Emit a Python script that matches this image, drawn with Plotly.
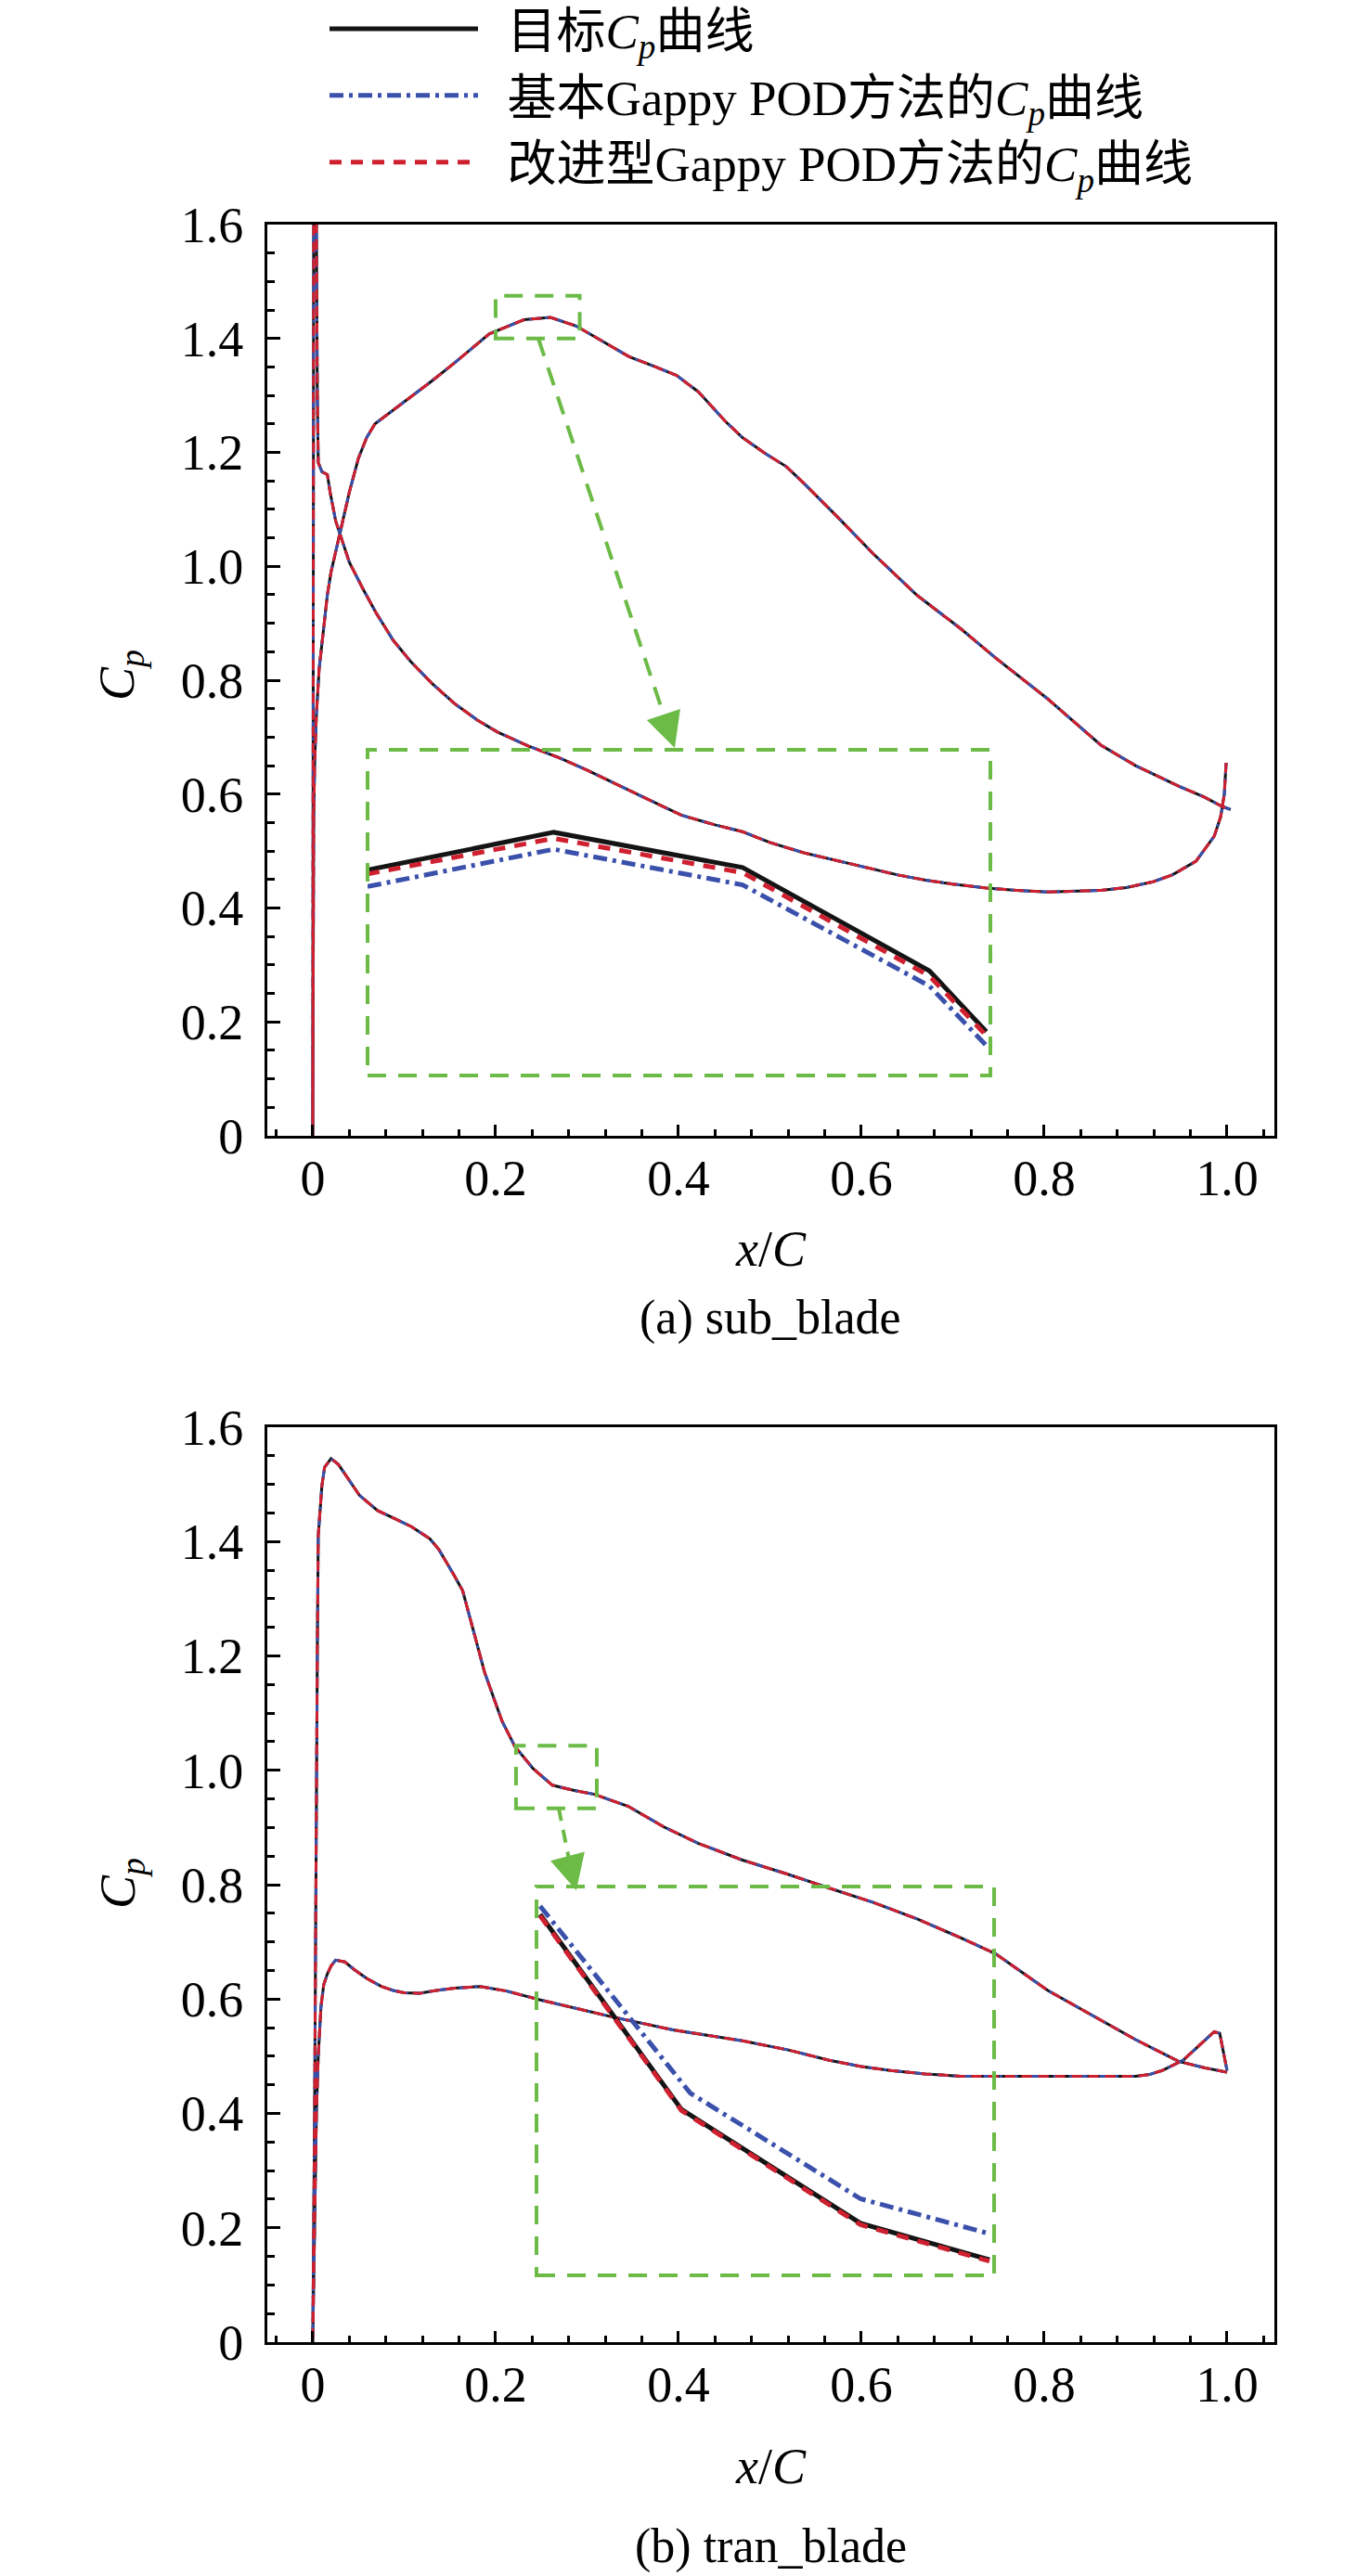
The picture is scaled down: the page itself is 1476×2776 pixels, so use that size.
import plotly.graph_objects as go

# ---------------- data: (a) sub_blade ----------------
# path: pressure side TE->LE, down the leading edge, suction side LE->TE
sub_x = [0.999, 0.997, 0.993, 0.986, 0.966, 0.940, 0.919, 0.890, 0.862, 0.830, 0.804, 0.770,
         0.737, 0.700, 0.670, 0.640, 0.613, 0.575, 0.537, 0.500, 0.470, 0.440, 0.403, 0.365,
         0.327, 0.300, 0.269, 0.235, 0.202, 0.180, 0.155, 0.130, 0.107, 0.088, 0.069, 0.055,
         0.040, 0.032, 0.025, 0.019, 0.016, 0.010, 0.006, 0.005, 0.004, 0.003,
         0.001, 0.0005, 0.0,
         0.0005, 0.001, 0.002, 0.004, 0.007, 0.011, 0.016, 0.020, 0.030, 0.040, 0.050, 0.059,
         0.068, 0.078, 0.090, 0.107, 0.130, 0.155, 0.193, 0.231, 0.260, 0.288, 0.327, 0.346,
         0.375, 0.398, 0.422, 0.451, 0.470, 0.495, 0.518, 0.537, 0.575, 0.613, 0.661, 0.709,
         0.747, 0.804, 0.862, 0.900, 0.947, 0.975, 0.995, 1.004]
sub_cp = [0.655, 0.600, 0.560, 0.526, 0.482, 0.458, 0.446, 0.436, 0.431, 0.429, 0.428, 0.431,
          0.435, 0.442, 0.449, 0.458, 0.468, 0.482, 0.497, 0.515, 0.534, 0.546, 0.563, 0.592,
          0.621, 0.642, 0.664, 0.685, 0.709, 0.730, 0.759, 0.795, 0.833, 0.870, 0.919, 0.960,
          1.007, 1.045, 1.080, 1.130, 1.161, 1.166, 1.182, 1.300, 1.600, 1.900,
          1.600, 0.900, 0.0,
          0.300, 0.550, 0.650, 0.740, 0.820, 0.880, 0.950, 0.990, 1.060, 1.130, 1.190, 1.226,
          1.250, 1.262, 1.277, 1.298, 1.325, 1.357, 1.408, 1.433, 1.437, 1.422, 1.386, 1.368,
          1.350, 1.335, 1.306, 1.255, 1.226, 1.198, 1.175, 1.146, 1.085, 1.022, 0.949, 0.890,
          0.839, 0.767, 0.686, 0.650, 0.614, 0.595, 0.578, 0.573]
sub_cp_basic = list(sub_cp)      # indistinguishable from target at full scale
sub_cp_improved = list(sub_cp)

# zoomed detail (a)
sub_zoom_x = [0.2000, 0.2275, 0.2554, 0.2830, 0.2914]
sub_zoom_target = [1.4473, 1.4560, 1.4479, 1.4241, 1.4101]
sub_zoom_basic = [1.4435, 1.4521, 1.4439, 1.4206, 1.4069]
sub_zoom_improved = [1.4464, 1.4546, 1.4467, 1.4229, 1.4092]
sub_zoom_xrange = [0.200, 0.292]
sub_zoom_yrange = [1.400, 1.475]

# ---------------- data: (b) tran_blade ----------------
# path: suction side TE->LE, leading edge, pressure side LE->TE
tran_x = [1.000, 0.975, 0.947, 0.900, 0.852, 0.804, 0.747, 0.709, 0.661, 0.613, 0.565, 0.518,
          0.470, 0.422, 0.384, 0.345, 0.308, 0.285, 0.262, 0.241, 0.221, 0.207, 0.188, 0.175,
          0.164, 0.155, 0.145, 0.138, 0.128, 0.108, 0.091, 0.071, 0.051, 0.037, 0.028, 0.020,
          0.013, 0.010, 0.008, 0.006, 0.005, 0.004, 0.002, 0.0,
          0.002, 0.004, 0.006, 0.009, 0.012, 0.016, 0.020, 0.025, 0.035, 0.045, 0.059, 0.075,
          0.088, 0.100, 0.117, 0.135, 0.155, 0.183, 0.212, 0.250, 0.290, 0.327, 0.394, 0.470,
          0.520, 0.565, 0.600, 0.632, 0.670, 0.709, 0.804, 0.900, 0.915, 0.929, 0.952, 0.972,
          0.986, 0.992, 0.996, 1.000]
tran_cp = [0.472, 0.480, 0.491, 0.529, 0.572, 0.615, 0.679, 0.707, 0.740, 0.769, 0.794, 0.819,
           0.843, 0.872, 0.901, 0.937, 0.958, 0.965, 0.974, 1.003, 1.042, 1.086, 1.171, 1.250,
           1.314, 1.340, 1.367, 1.386, 1.405, 1.426, 1.439, 1.454, 1.481, 1.514, 1.535, 1.545,
           1.530, 1.498, 1.460, 1.410, 1.210, 0.900, 0.400, 0.0,
           0.200, 0.400, 0.500, 0.587, 0.625, 0.644, 0.658, 0.668, 0.665, 0.652, 0.636, 0.622,
           0.615, 0.611, 0.610, 0.615, 0.619, 0.622, 0.614, 0.598, 0.583, 0.569, 0.546, 0.527,
           0.511, 0.493, 0.482, 0.475, 0.469, 0.465, 0.465, 0.465, 0.468, 0.475, 0.493, 0.522,
           0.543, 0.540, 0.510, 0.475]
tran_cp_basic = list(tran_cp)
tran_cp_improved = list(tran_cp)

# zoomed detail (b)
tran_zoom_x = [0.2230, 0.2503, 0.2849, 0.3098]
tran_zoom_target = [1.0350, 0.9802, 0.9482, 0.9380]
tran_zoom_basic_x = [0.2230, 0.2520, 0.2849, 0.3098]
tran_zoom_basic = [1.0373, 0.9848, 0.9551, 0.9453]
tran_zoom_improved = [1.0346, 0.9799, 0.9478, 0.9376]
tran_zoom_xrange = [0.2223, 0.3107]
tran_zoom_yrange = [0.9336, 1.0428]

x_ticks = [0, 0.2, 0.4, 0.6, 0.8, 1.0]
x_ticktext = ["0", "0.2", "0.4", "0.6", "0.8", "1.0"]
y_ticks = [0, 0.2, 0.4, 0.6, 0.8, 1.0, 1.2, 1.4, 1.6]
y_ticktext = ["0", "0.2", "0.4", "0.6", "0.8", "1.0", "1.2", "1.4", "1.6"]

names = ["\u00a0\u00a0目标<i>C<sub>p</sub></i>曲线",
         "\u00a0\u00a0基本Gappy POD方法的<i>C<sub>p</sub></i>曲线",
         "\u00a0\u00a0改进型Gappy POD方法的<i>C<sub>p</sub></i>曲线"]

# ---------------- styling ----------------
W, H = 1476, 2776
BLACK, BLUE, RED, GREEN = "#141414", "#3a50ab", "#cf2030", "#6cbb47"
FONT = "Liberation Serif, Noto Sans CJK SC, serif"
TICKSIZE = 54

def px_x(p):
    return p / W

def px_y(p):
    return 1 - p / H

fig = go.Figure()

main_styles = [(BLACK, "solid"), (BLUE, "12px,5px,3px,5px"), (RED, "11px,7px")]
zoom_styles = [(BLACK, "solid"), (BLUE, "15px,6px,4px,6px"), (RED, "13px,10px")]

for (c, d), yv in zip(main_styles, [sub_cp, sub_cp_basic, sub_cp_improved]):
    fig.add_trace(go.Scatter(x=sub_x, y=yv, mode="lines", xaxis="x", yaxis="y",
                             line=dict(color=c, width=3, dash=d), showlegend=False))
for (c, d), yv in zip(main_styles, [tran_cp, tran_cp_basic, tran_cp_improved]):
    fig.add_trace(go.Scatter(x=tran_x, y=yv, mode="lines", xaxis="x2", yaxis="y2",
                             line=dict(color=c, width=3, dash=d), showlegend=False))
for i, ((c, d), yv, nm) in enumerate(zip(zoom_styles,
                                         [sub_zoom_target, sub_zoom_basic, sub_zoom_improved], names)):
    fig.add_trace(go.Scatter(x=sub_zoom_x, y=yv, mode="lines", xaxis="x3", yaxis="y3",
                             name=nm, legendgroup="g%d" % i,
                             line=dict(color=c, width=5, dash=d), showlegend=True))
for (c, d), xv, yv in zip(zoom_styles, [tran_zoom_x, tran_zoom_basic_x, tran_zoom_x],
                          [tran_zoom_target, tran_zoom_basic, tran_zoom_improved]):
    fig.add_trace(go.Scatter(x=xv, y=yv, mode="lines", xaxis="x4", yaxis="y4",
                             line=dict(color=c, width=5, dash=d), showlegend=False))

xdom = [px_x(288), px_x(1373)]
ydom_top = [px_y(1224), px_y(242)]
ydom_bot = [px_y(2524), px_y(1538)]

def xaxis_cfg(anchor):
    return dict(domain=xdom, anchor=anchor, range=[-0.0497, 1.0518],
                tickvals=x_ticks, ticktext=x_ticktext, ticks="inside", ticklen=12,
                tickwidth=3, tickcolor="black", showline=True, linecolor="black",
                linewidth=3, mirror=True, showgrid=False, zeroline=False,
                ticklabelstandoff=-4,
                tickfont=dict(family=FONT, size=TICKSIZE, color="black"),
                minor=dict(dtick=0.04, tick0=0, ticks="inside", ticklen=7,
                           tickwidth=3, tickcolor="black", showgrid=False))

def yaxis_cfg(anchor, dom):
    return dict(domain=dom, anchor=anchor, range=[0, 1.6],
                tickvals=y_ticks, ticktext=y_ticktext, ticks="inside", ticklen=14,
                tickwidth=3, tickcolor="black", showline=True, linecolor="black",
                linewidth=3, mirror=True, showgrid=False, zeroline=False,
                ticklabelstandoff=12,
                tickfont=dict(family=FONT, size=TICKSIZE, color="black"),
                minor=dict(dtick=0.05, tick0=0, ticks="inside", ticklen=8,
                           tickwidth=3, tickcolor="black", showgrid=False))

fig.update_layout(
    width=W, height=H, margin=dict(l=0, r=0, t=0, b=0, autoexpand=False),
    paper_bgcolor="white", plot_bgcolor="rgba(0,0,0,0)",
    font=dict(family=FONT, size=52, color="black"),
    xaxis=xaxis_cfg("y"), yaxis=yaxis_cfg("x", ydom_top),
    xaxis2=xaxis_cfg("y2"), yaxis2=yaxis_cfg("x2", ydom_bot),
    xaxis3=dict(domain=[px_x(396), px_x(1067)], anchor="y3", range=sub_zoom_xrange, visible=False),
    yaxis3=dict(domain=[px_y(1159), px_y(808)], anchor="x3", range=sub_zoom_yrange, visible=False),
    xaxis4=dict(domain=[px_x(578), px_x(1071)], anchor="y4", range=tran_zoom_xrange, visible=False),
    yaxis4=dict(domain=[px_y(2452), px_y(2033)], anchor="x4", range=tran_zoom_yrange, visible=False),
    legend=dict(x=px_x(350), y=1.0036, xanchor="left", yanchor="top", itemwidth=160,
                bgcolor="rgba(0,0,0,0)", font=dict(family=FONT, size=53, color="black"),
                traceorder="grouped", tracegroupgap=0, itemclick=False),
    showlegend=True,
)

gdash = "20px,13px"
shapes = [
    dict(type="rect", xref="x", yref="y", x0=sub_zoom_xrange[0], x1=sub_zoom_xrange[1],
         y0=sub_zoom_yrange[0], y1=sub_zoom_yrange[1], line=dict(color=GREEN, width=4, dash=gdash)),
    dict(type="rect", xref="x3 domain", yref="y3 domain", x0=0, x1=1, y0=0, y1=1,
         line=dict(color=GREEN, width=4, dash=gdash)),
    dict(type="rect", xref="x2", yref="y2", x0=tran_zoom_xrange[0], x1=tran_zoom_xrange[1],
         y0=tran_zoom_yrange[0], y1=tran_zoom_yrange[1], line=dict(color=GREEN, width=4, dash=gdash)),
    dict(type="rect", xref="x4 domain", yref="y4 domain", x0=0, x1=1, y0=0, y1=1,
         line=dict(color=GREEN, width=4, dash=gdash)),
    dict(type="line", xref="x", yref="y", x0=0.2467, y0=1.400, x1=0.3880, y1=0.7190,
         line=dict(color=GREEN, width=4, dash=gdash)),
    dict(type="line", xref="x2", yref="y2", x0=0.2690, y0=0.934, x1=0.2828, y1=0.8240,
         line=dict(color=GREEN, width=4, dash="14px,10px")),
]
fig.update_layout(shapes=shapes)

ann = [
    dict(xref="x", yref="y", axref="x", ayref="y", x=0.3959, y=0.6811, ax=0.3880, ay=0.7190,
         text="", showarrow=True, arrowhead=2, arrowsize=1.9, arrowwidth=4, arrowcolor=GREEN),
    dict(xref="x2", yref="y2", axref="x2", ayref="y2", x=0.2883, y=0.790, ax=0.2828, ay=0.8240,
         text="", showarrow=True, arrowhead=2, arrowsize=1.9, arrowwidth=4, arrowcolor=GREEN),
    dict(xref="paper", yref="paper", x=px_x(830), y=px_y(1346), text="<i>x</i>/<i>C</i>",
         showarrow=False, font=dict(family=FONT, size=54), xanchor="center", yanchor="middle"),
    dict(xref="paper", yref="paper", x=px_x(830), y=px_y(2658), text="<i>x</i>/<i>C</i>",
         showarrow=False, font=dict(family=FONT, size=54), xanchor="center", yanchor="middle"),
    dict(xref="paper", yref="paper", x=px_x(130), y=px_y(728), text="<i>C<sub>p</sub></i>",
         textangle=-90, showarrow=False, font=dict(family=FONT, size=54),
         xanchor="center", yanchor="middle"),
    dict(xref="paper", yref="paper", x=px_x(130), y=px_y(2030), text="<i>C<sub>p</sub></i>",
         textangle=-90, showarrow=False, font=dict(family=FONT, size=54),
         xanchor="center", yanchor="middle"),
    dict(xref="paper", yref="paper", x=px_x(830), y=px_y(1420), text="(a) sub_blade",
         showarrow=False, font=dict(family=FONT, size=52), xanchor="center", yanchor="middle"),
    dict(xref="paper", yref="paper", x=px_x(830), y=px_y(2744), text="(b) tran_blade",
         showarrow=False, font=dict(family=FONT, size=52), xanchor="center", yanchor="middle"),
]
fig.update_layout(annotations=ann)

fig.write_html("out.html", config={"displayModeBar": False, "responsive": False},
               post_script="document.body.style.margin='0';document.body.style.padding='0';")
